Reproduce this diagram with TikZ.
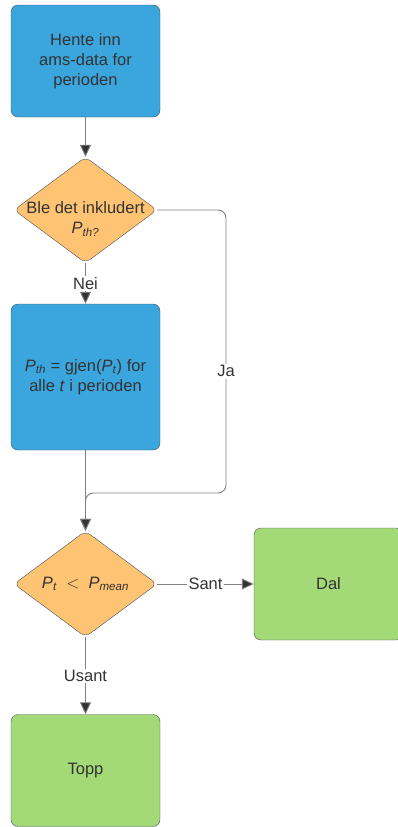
\documentclass[tikz,border=0pt]{standalone}
\usepackage{fontspec}
\setmainfont{Liberation Sans}
\usetikzlibrary{shapes.geometric,arrows.meta}
\definecolor{stepblue}{HTML}{3AA6DD}
\definecolor{testorange}{HTML}{FFC374}
\definecolor{endgreen}{HTML}{A3D977}
\definecolor{edgegray}{HTML}{4A4F55}
\definecolor{linegray}{HTML}{808080}
\definecolor{textgray}{HTML}{333333}
\newcommand{\ivar}[2]{\textit{#1}\textsubscript{\textit{#2}}}

\begin{document}
\begin{tikzpicture}[x=1pt,y=-1pt,
  font=\fontsize{16.5}{20}\selectfont, text=textgray,
  box/.style ={rectangle, draw=edgegray, rounded corners=7pt, minimum width=149pt, align=center},
  stepbox/.style ={box, fill=stepblue},
  endbox/.style ={box, fill=endgreen},
  test/.style ={diamond, draw=edgegray, fill=testorange, rounded corners=6pt,
    minimum width=143pt, minimum height=106pt, inner sep=0pt},
  flow/.style ={draw=linegray, line width=0.9pt, -{Triangle[length=12pt,width=11pt,fill=textgray]}},
  lbl/.style ={fill=white, inner sep=1.5pt}]
 \useasboundingbox (0,0) rectangle (397,827);
 \node[stepbox, minimum height=112pt] (fetch) at (85.5,61) {Hente inn\\ams-data for\\perioden};
 \node[test, label={[align=center, text=textgray, yshift=-9pt]center:Ble det inkludert\\\ivar{P}{th?}}] (given) at (85.5,210) {};
 \node[stepbox, minimum height=146pt] (mean) at (85.5,377) {\ivar{P}{th} = gjen(\ivar{P}{t}) for\\alle \textit{t} i perioden};
 \node[test, label={[text=textgray]center:\ivar{P}{t} \ $<$ \ \ivar{P}{mean}}] (compare) at (85.5,584) {};
 \node[endbox, minimum height=112pt] (valley) at (328.5,584) {Dal};
 \node[endbox, minimum height=112pt] (peak) at (85.5,770.5) {Topp};

 \draw[flow] (fetch) to (given);
 \draw[flow] (given) -- node[lbl] {Nei} (mean);
 \draw[flow, rounded corners=8pt] (given.east) -- (226,210) -- node[lbl, pos=0.57] {Ja} (226,493) -- (85.5,493) -- (compare.north);
 \draw[flow] (mean) -- (compare);
 \draw[flow] (compare) -- node[lbl] {Sant} (valley);
 \draw[flow] (compare) -- node[lbl] {Usant} (peak);
\end{tikzpicture}
\end{document}
